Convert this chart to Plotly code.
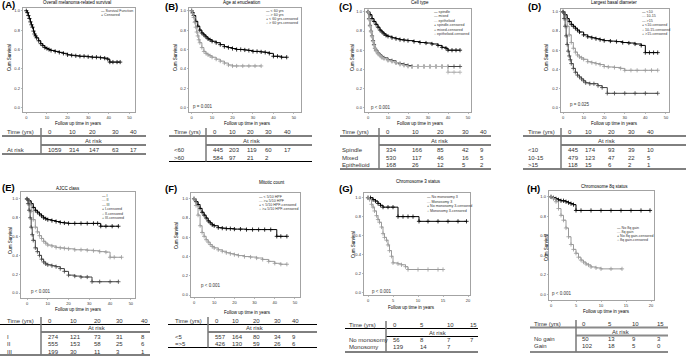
import plotly.graph_objects as go

W, H = 686, 357

# ---------------- data ----------------
A_time = [0, 0.5, 1, 1.5, 2, 2.5, 3, 3.5, 4, 4.5, 5, 6, 7, 8, 9, 10, 11, 12, 14, 16, 18, 20, 22, 24, 26, 28, 30, 32, 34, 36, 38, 39.5, 40.5, 42, 44, 45.5]
A_surv = [1.0, 0.98, 0.95, 0.92, 0.885, 0.855, 0.83, 0.79, 0.76, 0.74, 0.72, 0.69, 0.66, 0.64, 0.62, 0.61, 0.60, 0.59, 0.58, 0.57, 0.56, 0.545, 0.54, 0.535, 0.53, 0.53, 0.525, 0.52, 0.52, 0.515, 0.51, 0.50, 0.47, 0.47, 0.47, 0.47]

B_lt60_time = [0, 0.5, 1, 2, 3, 4, 5, 6, 7, 8, 9, 10, 12, 14, 16, 18, 20, 22, 24, 26, 28, 30, 32, 34, 36, 38, 40, 42, 44, 46.5]
B_lt60_surv = [1.0, 0.98, 0.95, 0.89, 0.84, 0.80, 0.77, 0.75, 0.73, 0.71, 0.70, 0.685, 0.67, 0.65, 0.63, 0.62, 0.61, 0.60, 0.60, 0.595, 0.59, 0.58, 0.58, 0.575, 0.57, 0.56, 0.53, 0.53, 0.52, 0.52]
B_gt60_time = [0, 0.5, 1, 1.5, 2, 2.5, 3, 3.5, 4, 5, 6, 7, 8, 9, 10, 12, 14, 16, 18, 20, 22, 25, 28, 31, 34]
B_gt60_surv = [1.0, 0.97, 0.93, 0.88, 0.83, 0.78, 0.74, 0.70, 0.67, 0.62, 0.58, 0.56, 0.545, 0.535, 0.52, 0.50, 0.48, 0.46, 0.44, 0.43, 0.43, 0.43, 0.43, 0.43, 0.43]

C_spindle_time = [0, 1, 2, 3, 4, 5, 6, 7, 8, 9, 10, 12, 14, 16, 18, 20, 23, 26, 29, 32, 35, 37, 39, 40, 42, 44, 46]
C_spindle_surv = [1.0, 0.97, 0.93, 0.90, 0.87, 0.84, 0.81, 0.79, 0.77, 0.755, 0.745, 0.73, 0.72, 0.71, 0.705, 0.70, 0.69, 0.68, 0.675, 0.665, 0.65, 0.63, 0.62, 0.60, 0.60, 0.60, 0.60]
C_mixed_time = [0, 0.5, 1, 1.5, 2, 2.5, 3, 3.5, 4, 5, 6, 7, 8, 10, 12, 14, 16, 18, 20, 22, 25, 28, 31, 34, 37, 40, 43, 46]
C_mixed_surv = [1.0, 0.93, 0.86, 0.80, 0.75, 0.70, 0.66, 0.62, 0.60, 0.57, 0.55, 0.53, 0.52, 0.50, 0.49, 0.47, 0.46, 0.45, 0.44, 0.43, 0.43, 0.43, 0.43, 0.43, 0.43, 0.43, 0.43, 0.43]
C_epi_time = [0, 0.5, 1, 1.5, 2, 2.5, 3, 3.5, 4, 5, 6, 7, 8, 10, 12, 14, 16, 18, 20, 22, 25, 28, 31, 34, 37, 40, 43, 46]
C_epi_surv = [1.0, 0.92, 0.85, 0.79, 0.74, 0.69, 0.65, 0.62, 0.59, 0.56, 0.54, 0.52, 0.51, 0.49, 0.48, 0.47, 0.45, 0.44, 0.43, 0.43, 0.43, 0.43, 0.43, 0.43, 0.43, 0.37, 0.37, 0.37]

D_lt10_time = [0, 1, 2, 3, 4, 5, 6, 7, 8, 10, 12, 14, 16, 18, 20, 23, 26, 29, 32, 35, 38, 40, 42, 44, 46]
D_lt10_surv = [1.0, 0.97, 0.93, 0.90, 0.87, 0.85, 0.83, 0.81, 0.79, 0.76, 0.74, 0.73, 0.72, 0.71, 0.70, 0.695, 0.69, 0.68, 0.675, 0.665, 0.65, 0.575, 0.575, 0.575, 0.575]
D_10_15_time = [0, 1, 2, 3, 4, 5, 6, 7, 8, 9, 10, 12, 14, 16, 18, 20, 22, 25, 28, 30, 33, 36, 40, 43, 46]
D_10_15_surv = [1.0, 0.93, 0.85, 0.76, 0.68, 0.62, 0.58, 0.55, 0.53, 0.52, 0.505, 0.48, 0.47, 0.46, 0.45, 0.43, 0.425, 0.42, 0.41, 0.39, 0.39, 0.39, 0.39, 0.39, 0.39]
D_gt15_time = [0, 0.5, 1, 1.5, 2, 2.5, 3, 3.5, 4, 5, 6, 7, 8, 9, 10, 11, 13, 15, 17, 19, 21.5, 25, 30, 35, 40, 46]
D_gt15_surv = [1.0, 0.93, 0.85, 0.75, 0.66, 0.59, 0.54, 0.50, 0.46, 0.41, 0.37, 0.34, 0.32, 0.30, 0.28, 0.26, 0.25, 0.25, 0.23, 0.21, 0.15, 0.15, 0.15, 0.15, 0.15, 0.15]

E_I_time = [0, 1, 2, 3, 4, 5, 6, 7, 8, 9, 10, 12, 14, 16, 18, 20, 23, 26, 29, 32, 34, 35.5, 38, 41, 44]
E_I_surv = [1.0, 0.98, 0.95, 0.91, 0.88, 0.86, 0.84, 0.82, 0.80, 0.79, 0.78, 0.77, 0.76, 0.75, 0.745, 0.74, 0.74, 0.74, 0.74, 0.74, 0.74, 0.71, 0.71, 0.71, 0.71]
E_II_time = [0, 1, 2, 3, 4, 5, 6, 7, 8, 9, 10, 12, 14, 16, 18, 20, 23, 26, 29, 32, 35, 38, 40, 42, 45.5]
E_II_surv = [1.0, 0.95, 0.87, 0.78, 0.70, 0.65, 0.61, 0.58, 0.55, 0.53, 0.51, 0.50, 0.485, 0.48, 0.475, 0.47, 0.46, 0.46, 0.455, 0.45, 0.44, 0.435, 0.38, 0.38, 0.38]
E_III_time = [0, 0.5, 1, 1.5, 2, 2.5, 3, 4, 5, 6, 7, 8, 9, 10, 12, 14, 16, 18, 20, 23, 26, 29, 31.3, 35, 40, 44]
E_III_surv = [1.0, 0.95, 0.88, 0.80, 0.70, 0.62, 0.56, 0.48, 0.44, 0.40, 0.36, 0.33, 0.31, 0.30, 0.29, 0.28, 0.26, 0.23, 0.19, 0.18, 0.17, 0.17, 0.12, 0.12, 0.12, 0.12]

F_lt5_time = [0, 1, 2, 3, 4, 5, 6, 7, 8, 9, 10, 12, 14, 16, 18, 20, 23, 26, 29, 32, 35, 38, 41, 43, 46]
F_lt5_surv = [1.0, 0.97, 0.94, 0.90, 0.86, 0.83, 0.80, 0.77, 0.75, 0.73, 0.72, 0.70, 0.695, 0.69, 0.69, 0.685, 0.685, 0.68, 0.68, 0.68, 0.68, 0.68, 0.61, 0.61, 0.61]
F_ge5_time = [0, 1, 2, 3, 4, 5, 6, 7, 8, 9, 10, 12, 14, 16, 18, 20, 22, 25, 28, 31, 34, 37, 40, 43, 46]
F_ge5_surv = [1.0, 0.93, 0.83, 0.72, 0.65, 0.61, 0.575, 0.55, 0.525, 0.505, 0.49, 0.47, 0.455, 0.44, 0.43, 0.42, 0.41, 0.40, 0.395, 0.385, 0.37, 0.35, 0.33, 0.32, 0.32]

G_nomono_time = [0, 0.5, 1, 1.5, 2, 2.5, 3, 4, 5, 6, 7, 8, 9, 10.2, 12, 14, 16, 18, 19.7]
G_nomono_surv = [1.0, 1.0, 0.98, 0.965, 0.94, 0.92, 0.90, 0.90, 0.90, 0.80, 0.80, 0.80, 0.80, 0.75, 0.75, 0.75, 0.75, 0.75, 0.75]
G_mono_time = [0, 0.3, 0.7, 1, 1.3, 1.7, 2, 2.3, 2.7, 3, 3.3, 3.7, 4, 4.3, 4.7, 5, 6, 6.7, 7.5, 8, 10, 12, 14, 15]
G_mono_surv = [1.0, 0.98, 0.93, 0.90, 0.86, 0.81, 0.77, 0.74, 0.69, 0.62, 0.58, 0.55, 0.50, 0.44, 0.38, 0.31, 0.30, 0.29, 0.27, 0.24, 0.24, 0.24, 0.24, 0.24]

H_nogain_time = [0, 0.5, 1, 1.5, 2, 2.5, 3, 3.5, 4, 4.5, 5, 6, 8, 10, 12, 14, 16, 18, 19.8]
H_nogain_surv = [1.0, 0.99, 0.98, 0.97, 0.96, 0.96, 0.95, 0.94, 0.93, 0.92, 0.86, 0.86, 0.86, 0.86, 0.86, 0.86, 0.86, 0.86, 0.86]
H_gain_time = [0, 0.5, 1, 1.5, 2, 2.5, 3, 3.5, 4, 4.5, 5, 5.5, 6, 6.5, 7, 7.5, 8, 9, 10, 12, 14.2]
H_gain_surv = [1.0, 0.98, 0.95, 0.88, 0.81, 0.76, 0.68, 0.59, 0.51, 0.46, 0.42, 0.38, 0.35, 0.33, 0.31, 0.30, 0.28, 0.27, 0.26, 0.26, 0.26]

# at-risk tables
times_long = [0, 10, 20, 30, 40]
times_short = [0, 5, 10, 15]
A_rows = ["At risk"]
A_risk = [[1059, 314, 147, 63, 17]]
B_rows = ["<60", ">60"]
B_risk = [[445, 203, 119, 60, 17], [584, 97, 21, 2, ""]]
C_rows = ["Spindle", "Mixed", "Epithelioid"]
C_risk = [[334, 166, 85, 42, 9], [530, 117, 46, 16, 5], [168, 26, 12, 5, 2]]
D_rows = ["<10", "10-15", ">15"]
D_risk = [[445, 174, 93, 39, 10], [479, 123, 47, 22, 5], [118, 15, 6, 2, 1]]
E_rows = ["I", "II", "III"]
E_risk = [[274, 121, 73, 31, 8], [555, 153, 58, 25, 6], [199, 30, 11, 3, 1]]
F_rows = ["<5", "=>5"]
F_risk = [[557, 164, 80, 34, 9], [426, 130, 59, 26, 6]]
G_rows = ["No monosomy", "Monosomy"]
G_risk = [[56, 8, 7, 7], [139, 14, 7, ""]]
H_rows = ["No gain", "Gain"]
H_risk = [[50, 13, 9, 3], [102, 18, 5, 0]]

# ---------------- styling / layout ----------------
BLACK, GRAY, DARK, LIGHT = "#000000", "#9a9a9a", "#444444", "#b0b0b0"
FONT = "Liberation Sans"
TXT = "#333333"


def esc(s):
    return str(s).replace("<", "&lt;").replace(">", "&gt;")


def px(x):
    return x / W


def py(y):
    return 1 - y / H


panels = [
    dict(label="(A)", lab=(0, 4.5), title="Overall melanoma-related survival", tpos=(77, 3),
         box=(23, 8, 135, 112), xr=[-1.6, 52.7], yr=[-0.045, 1.028], xt=[0, 10, 20, 30, 40, 50],
         curves=[(A_time, A_surv, BLACK)],
         legend=[("Survival Function", BLACK, "—"), ("Censored", BLACK, "+")], lpos=(99, 11, 4),
         pval=None, ylab=(10, 58), xlab=(78, 123),
         table=dict(times=times_long, rows=A_rows, risk=A_risk, lx=5, div=41, cols=[46, 67, 87, 110, 128],
                    hy=132, l1=136, ay=141, ac=94, l2=145, ry=[150], bot=154, span=(2, 146))),
    dict(label="(B)", lab=(163, 6), title="Age at enucleation", tpos=(242, 3),
         box=(189, 8, 301, 112), xr=[-1.3, 53.5], yr=[-0.045, 1.028], xt=[0, 10, 20, 30, 40, 50],
         curves=[(B_lt60_time, B_lt60_surv, BLACK), (B_gt60_time, B_gt60_surv, GRAY)],
         legend=[("< 60 yrs", BLACK, "—"), ("> 60 yrs", GRAY, "—"), ("< 60 yrs-censored", BLACK, "+"),
                 ("> 60 yrs-censored", GRAY, "+")], lpos=(264, 11, 4),
         pval=("p = 0.001", 191, 106), ylab=(176, 58), xlab=(247, 123),
         table=dict(times=times_long, rows=B_rows, risk=B_risk, lx=172, div=206, cols=[211, 227, 245, 263, 282],
                    hy=132, l1=136, ay=141, ac=252, l2=145, ry=[150, 157.5], bot=161.5, span=(169, 312))),
    dict(label="(C)", lab=(337, 6), title="Cell type", tpos=(420, 3),
         box=(365, 9, 471, 112), xr=[-1.5, 51.5], yr=[-0.045, 1.03], xt=[0, 10, 20, 30, 40, 50],
         curves=[(C_spindle_time, C_spindle_surv, BLACK), (C_mixed_time, C_mixed_surv, DARK),
                 (C_epi_time, C_epi_surv, LIGHT)],
         legend=[("spindle", BLACK, "—"), ("mixed", DARK, "—"), ("epithelioid", LIGHT, "—"),
                 ("spindle-censored", BLACK, "+"), ("mixed-censored", DARK, "+"),
                 ("epithelioid-censored", LIGHT, "+")], lpos=(432, 12, 4.4),
         pval=("p < 0.001", 369, 107), ylab=(353, 58), xlab=(420, 123),
         table=dict(times=times_long, rows=C_rows, risk=C_risk, lx=340, div=379, cols=[384, 410, 435, 460, 478],
                    hy=132, l1=136, ay=141, ac=440, l2=145, ry=[150, 157.5, 165], bot=169, span=(340, 491))),
    dict(label="(D)", lab=(526, 6), title="Largest basal diameter", tpos=(614, 3),
         box=(561, 9, 669, 112), xr=[-1.0, 51.5], yr=[-0.045, 1.03], xt=[0, 10, 20, 30, 40, 50],
         curves=[(D_lt10_time, D_lt10_surv, BLACK), (D_10_15_time, D_10_15_surv, GRAY),
                 (D_gt15_time, D_gt15_surv, DARK)],
         legend=[("<10", BLACK, "—"), ("10-15", GRAY, "—"), (">15", DARK, "—"),
                 ("<10-censored", BLACK, "+"), ("10-15-censored", GRAY, "+"), (">15-censored", DARK, "+")],
         lpos=(640, 12, 4.4),
         pval=("p = 0.025", 568, 104), ylab=(547, 58), xlab=(614, 123),
         table=dict(times=times_long, rows=D_rows, risk=D_risk, lx=526, div=561, cols=[566, 583, 606, 626, 645],
                    hy=132, l1=136, ay=141, ac=607, l2=145, ry=[150, 157.5, 165], bot=169, span=(523, 686))),
    dict(label="(E)", lab=(0, 187), title="AJCC class", tpos=(68, 188),
         box=(21, 192, 135, 298), xr=[-2.9, 52], yr=[-0.053, 1.074], xt=[0, 10, 20, 30, 40, 50],
         curves=[(E_I_time, E_I_surv, BLACK), (E_II_time, E_II_surv, GRAY), (E_III_time, E_III_surv, DARK)],
         legend=[("I", BLACK, "—"), ("II", GRAY, "—"), ("III", DARK, "—"),
                 ("I-censored", BLACK, "+"), ("II-censored", GRAY, "+"), ("III-censored", DARK, "+")],
         lpos=(100, 196, 4.4),
         pval=("p < 0.001", 29, 291), ylab=(10, 241), xlab=(78, 309),
         table=dict(times=times_long, rows=E_rows, risk=E_risk, lx=5, div=41, cols=[46, 68, 92, 114, 139],
                    hy=321, l1=324.5, ay=328, ac=97, l2=332, ry=[337, 344, 351.5], bot=355, span=(0, 150))),
    dict(label="(F)", lab=(163, 188), title="Mitotic count", tpos=(272, 182),
         box=(191, 193, 300, 297), xr=[-1.5, 52.5], yr=[-0.02, 1.06], xt=[0, 10, 20, 30, 40, 50],
         curves=[(F_lt5_time, F_lt5_surv, BLACK), (F_ge5_time, F_ge5_surv, GRAY)],
         legend=[("< 5/10 HPF", BLACK, "—"), (">= 5/10 HPF", GRAY, "—"),
                 ("< 5/10 HPF-censored", BLACK, "+"), (">= 5/10 HPF-censored", GRAY, "+")],
         lpos=(257, 197, 4),
         pval=("p < 0.001", 199, 285), ylab=(176, 236), xlab=(247, 312),
         table=dict(times=times_long, rows=F_rows, risk=F_risk, lx=173, div=208, cols=[213, 230, 251, 272, 290],
                    hy=321, l1=324.5, ay=328, ac=255, l2=332, ry=[337, 344], bot=347.5, span=(168, 317))),
    dict(label="(G)", lab=(337, 188), title="Chromosome 3 status", tpos=(418, 181),
         box=(364, 193, 470, 295), xr=[-0.8, 20.4], yr=[-0.03, 1.05], xt=[0, 5, 10, 15, 20],
         curves=[(G_nomono_time, G_nomono_surv, BLACK), (G_mono_time, G_mono_surv, GRAY)],
         legend=[("No monosomy 3", BLACK, "—"), ("Monosomy 3", GRAY, "—"),
                 ("No monosomy 3-censored", BLACK, "+"), ("Monosomy 3-censored", GRAY, "+")],
         lpos=(425, 197, 4.5),
         pval=("p < 0.001", 370, 291), ylab=(353, 245), xlab=(411, 307),
         table=dict(times=times_short, rows=G_rows, risk=G_risk, lx=347, div=386, cols=[391, 418, 445, 468],
                    hy=325, l1=328.5, ay=333, ac=438, l2=336.5, ry=[340, 347], bot=352, span=(345, 478))),
    dict(label="(H)", lab=(525, 188), title="Chromosome 8q status", tpos=(604, 186),
         box=(549, 191, 654, 300), xr=[-0.4, 20.6], yr=[-0.06, 1.06], xt=[0, 5, 10, 15, 20],
         curves=[(H_nogain_time, H_nogain_surv, BLACK), (H_gain_time, H_gain_surv, GRAY)],
         legend=[("No 8q gain", BLACK, "—"), ("8q gain", GRAY, "—"),
                 ("No 8q gain-censored", BLACK, "+"), ("8q gain-censored", GRAY, "+")],
         lpos=(615, 228, 4),
         pval=("p < 0.001", 550, 293), ylab=(546, 248), xlab=(606, 311),
         table=dict(times=times_short, rows=H_rows, risk=H_risk, lx=532, div=576, cols=[580, 606, 630, 655],
                    hy=324, l1=327.5, ay=332, ac=621, l2=335.5, ry=[339, 346], bot=352, span=(530, 668),
                    lcolor="#8a8a8a", lw=2)),
]

fig = go.Figure()
annotations = []
shapes = []
layout = {}


def ann(x, y, text, size, color=TXT, xanchor="left", bold=False, angle=0):
    t = esc(text)
    if bold:
        t = "<b>" + t + "</b>"
    annotations.append(dict(x=px(x), y=py(y), xref="paper", yref="paper", text=t, showarrow=False,
                            xanchor=xanchor, yanchor="middle", textangle=angle,
                            font=dict(family=FONT, size=size, color=color)))


def hline(x0, x1, y, color="#000000", width=1):
    shapes.append(dict(type="line", xref="paper", yref="paper", x0=px(x0), x1=px(x1), y0=py(y), y1=py(y),
                       line=dict(color=color, width=width)))


def vline(x, y0, y1, color="#777777", width=1.5):
    shapes.append(dict(type="line", xref="paper", yref="paper", x0=px(x), x1=px(x), y0=py(y0), y1=py(y1),
                       line=dict(color=color, width=width)))


yt_vals = [0, 0.2, 0.4, 0.6, 0.8, 1.0]
yt_text = ["0.0", "0.2", "0.4", "0.6", "0.8", "1.0"]

for i, P in enumerate(panels, start=1):
    xa = "x" if i == 1 else f"x{i}"
    ya = "y" if i == 1 else f"y{i}"
    xk = "xaxis" if i == 1 else f"xaxis{i}"
    yk = "yaxis" if i == 1 else f"yaxis{i}"
    x0, y0, x1, y1 = P["box"]
    for (t, s, c) in P["curves"]:
        fig.add_trace(go.Scatter(
            x=t, y=s, mode="lines+markers", xaxis=xa, yaxis=ya, showlegend=False, hoverinfo="skip",
            line=dict(color=c, width=1, shape="hv"),
            marker=dict(symbol="cross-thin", size=3, color=c, line=dict(color=c, width=0.8))))
    axcommon = dict(showline=True, mirror=True, linecolor="#8c8c8c", linewidth=0.8, showgrid=False,
                    zeroline=False, ticks="outside", ticklen=1.5, tickcolor="#8c8c8c", tickwidth=0.6,
                    tickfont=dict(family=FONT, size=4, color=TXT), fixedrange=True)
    layout[xk] = dict(domain=[px(x0), px(x1)], range=P["xr"], anchor=ya, tickvals=P["xt"], **axcommon)
    layout[yk] = dict(domain=[py(y1), py(y0)], range=P["yr"], anchor=xa, tickvals=yt_vals,
                      ticktext=yt_text, **axcommon)

    # panel letter, title, axis titles
    ann(P["lab"][0], P["lab"][1], P["label"], 9.5, color="#000000", bold=True)
    ann(P["tpos"][0], P["tpos"][1], P["title"], 4.5, color="#000000", xanchor="center")
    ann(P["xlab"][0], P["xlab"][1], "Follow up time in years", 4.5, color="#000000", xanchor="center")
    ann(P["ylab"][0], P["ylab"][1], "Cum Survival", 4.5, color="#000000", xanchor="center", angle=-90)
    if P["pval"]:
        ann(P["pval"][1], P["pval"][2], P["pval"][0], 4.5, color=TXT)

    # legend
    lx, ly, ld = P["lpos"]
    for k, (lbl, c, sym) in enumerate(P["legend"]):
        annotations.append(dict(
            x=px(lx), y=py(ly + k * ld), xref="paper", yref="paper", showarrow=False,
            xanchor="left", yanchor="middle",
            text=f'<span style="color:{c}">{sym}</span> {esc(lbl)}',
            font=dict(family=FONT, size=3.6, color=TXT)))

    # at-risk table
    T = P["table"]
    lc = T.get("lcolor", "#000000")
    lw = T.get("lw", 1)
    fs = 6
    ann(T["lx"], T["hy"], "Time (yrs)", fs)
    for cx, tv in zip(T["cols"], T["times"]):
        ann(cx, T["hy"], tv, fs)
    ann(T["ac"], T["ay"], "At risk", fs, xanchor="center")
    for ry, rlab, vals in zip(T["ry"], T["rows"], T["risk"]):
        ann(T["lx"], ry, rlab, fs)
        for cx, v in zip(T["cols"], vals):
            if v != "":
                ann(cx, ry, v, fs)
    hline(T["span"][0], T["span"][1], T["l1"], lc, lw)
    hline(T["div"], T["span"][1], T["l2"], lc, lw)
    hline(T["span"][0], T["span"][1], T["bot"], lc, lw)
    vline(T["div"], T["hy"] - 4, T["bot"])

fig.update_layout(
    width=W, height=H, margin=dict(l=0, r=0, t=0, b=0),
    paper_bgcolor="white", plot_bgcolor="white", showlegend=False,
    annotations=annotations, shapes=shapes, **layout)

fig.write_html("out.html", config={"displayModeBar": False, "staticPlot": True},
               post_script="document.body.style.margin='0';document.body.style.overflow='hidden';")
